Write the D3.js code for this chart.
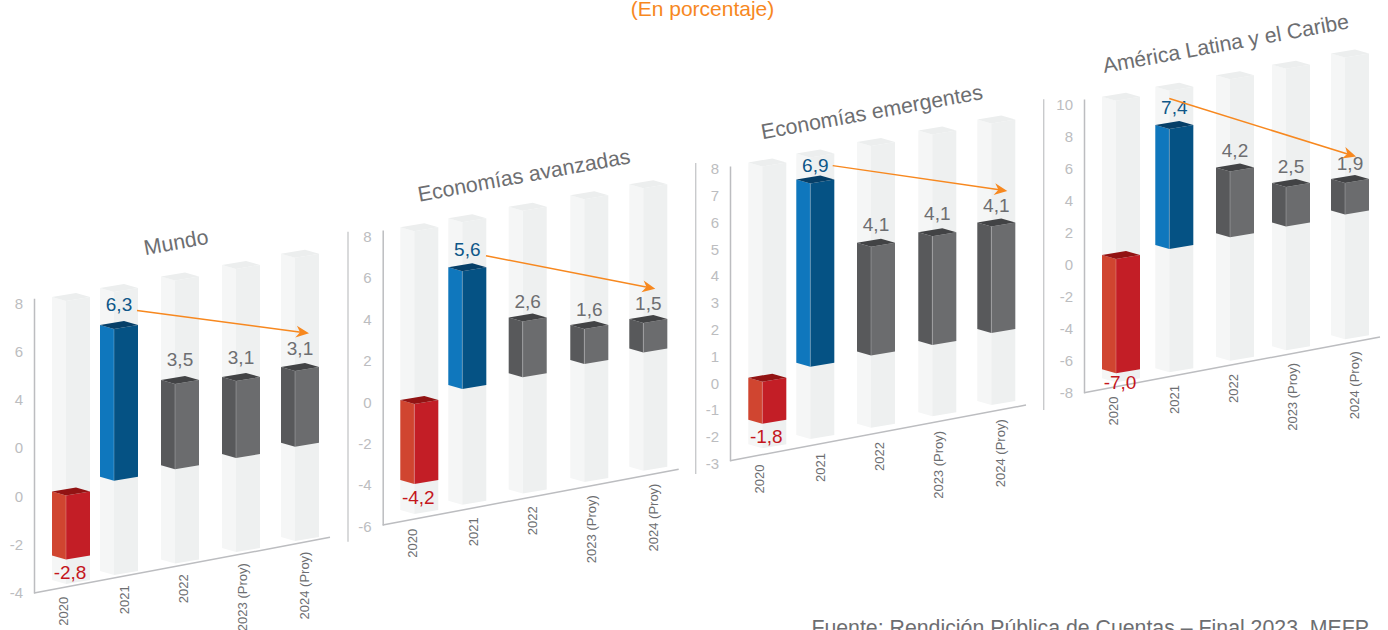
<!DOCTYPE html>
<html>
<head>
<meta charset="utf-8">
<script src="https://cdn.jsdelivr.net/npm/d3@7"></script>
<style>
    html, body { margin: 0; padding: 0; background: #fff; overflow: hidden; }
    text { font-family: "Liberation Sans", Arial, sans-serif; }
</style>
</head>
<body>
<div id="chart"></div>
<script>
const categories = ['2020', '2021', '2022', '2023 (Proy)', '2024 (Proy)'];

// labels printed on the bars
const mundoValues = [-2.8, 6.3, 3.5, 3.1, 3.1];
const avanzadasValues = [-4.2, 5.6, 2.6, 1.6, 1.5];
const emergentesValues = [-1.8, 6.9, 4.1, 4.1, 4.1];
const latinaValues = [-7.0, 7.4, 4.2, 2.5, 1.9];

// where the floating bars start and end, read against each axis
const mundoBottoms = [-2.59, 0.3, 0.3, 0.29, 0.3];
const mundoTops = [0.06, 6.58, 3.83, 3.48, 3.44];
const avanzadasBottoms = [-3.99, 0.17, 0.18, 0.26, 0.28];
const avanzadasTops = [-0.12, 5.85, 2.87, 1.96, 1.71];
const emergentesBottoms = [-1.6, 0.19, 0.18, 0.15, 0.18];
const emergentesTops = [-0.03, 7.03, 4.24, 4.2, 4.15];
const latinaBottoms = [-6.75, 0.4, 0.42, 0.43, 0.49];
const latinaTops = [0.39, 7.9, 4.52, 2.89, 2.45];

// tick labels, the first panel really prints 0 twice
const mundoTicks = [-4, -2, 0, 2, 4, 6, 8];
const mundoTickLabels = ['-4', '-2', '0', '0', '4', '6', '8'];
const avanzadasTicks = [-6, -4, -2, 0, 2, 4, 6, 8];
const emergentesTicks = [-3, -2, -1, 0, 1, 2, 3, 4, 5, 6, 7, 8];
const latinaTicks = [-8, -6, -4, -2, 0, 2, 4, 6, 8, 10];

const width = 1388;
const height = 630;
const slope = -0.188;
const barLeft = 14;
const barRight = 24;
const barDepth = 4;
const xLabelOffsets = [30, 91, 150, 209, 271];
const axisLength = 296;

const panels = [
    {
        title: 'Mundo', titleX: 176, titleY: 242,
        axisX: 34, axisY: 593, unit: 24.15, min: -4, axisTop: 8.2, tickShift: 0,
        ticks: mundoTicks, tickLabels: mundoTickLabels,
        values: mundoValues, bottoms: mundoBottoms, tops: mundoTops,
        trackLow: -3.6, trackHigh: 8.12, colStops: [18, 66, 127, 188, 247],
        labelGaps: [17, 21, 21, 20, 19], arrow: [37, 28, 6.9, 4.61], divider: null
    },
    {
        title: 'Economías avanzadas', titleX: 524, titleY: 175,
        axisX: 382.7, axisY: 525, unit: 20.71, min: -6, axisTop: 8.25, tickShift: 1.5,
        ticks: avanzadasTicks, tickLabels: avanzadasTicks.map(String),
        values: avanzadasValues, bottoms: avanzadasBottoms, tops: avanzadasTops,
        trackLow: -5.43, trackHigh: 8.22, colStops: [17.6, 65.6, 126, 187.6, 246.6],
        labelGaps: [17, 18, 16, 16, 16], arrow: [37.7, 26, 6.06, 2.93], divider: [348, 231.7, 541.7]
    },
    {
        title: 'Economías emergentes', titleX: 871.7, titleY: 111.7,
        axisX: 730, axisY: 460.7, unit: 26.8, min: -3, axisTop: 8.0, tickShift: 3,
        ticks: emergentesTicks, tickLabels: emergentesTicks.map(String),
        values: emergentesValues, bottoms: emergentesBottoms, tops: emergentesTops,
        trackLow: -2.51, trackHigh: 8.0, colStops: [18.3, 66.3, 127, 188.3, 247.3],
        labelGaps: [17, 14, 18, 19, 17], arrow: [36.4, 30, 7.29, 5.12], divider: [695.7, 163, 474]
    },
    {
        title: 'América Latina y el Caribe', titleX: 1225.7, titleY: 43.3,
        axisX: 1084, axisY: 392.7, unit: 16, min: -8, axisTop: 10.35, tickShift: 0,
        ticks: latinaTicks, tickLabels: latinaTicks.map(String),
        values: latinaValues, bottoms: latinaBottoms, tops: latinaTops,
        trackLow: -7.31, trackHigh: 10.29, colStops: [18, 71.3, 132, 188, 247],
        labelGaps: [13, 18, 17, 16.6, 16], arrow: [14, 25, 9.38, 3.56], divider: [1043.7, 99.3, 410]
    }
];

const trackColors = { left: '#f5f6f6', right: '#eef0f0', top: '#eceeee' };
const redColors = { left: '#d04530', right: '#c31e26', top: '#921313', text: '#c4161c' };
const blueColors = { left: '#0f77bd', right: '#055284', top: '#063f68', text: '#0f5788' };
const grayColors = { left: '#58595b', right: '#6b6c6e', top: '#424345', text: '#6d6e71' };

const axisColor = '#bcbdc0';
const orange = '#f7881f';

const svg = d3.select('#chart')
    .append('svg')
    .attr('width', width)
    .attr('height', height);

const drawBox = (g, x, yTop, yBottom, colors, edge) => {
    const front = x + barLeft;
    const right = front + barRight;
    g.append('polygon')
        .attr('points', [[x, yTop], [front, yTop + barDepth], [front, yBottom + barDepth], [x, yBottom]].join(' '))
        .attr('fill', colors.left);
    g.append('polygon')
        .attr('points', [[front, yTop + barDepth], [right, yTop], [right, yBottom], [front, yBottom + barDepth]].join(' '))
        .attr('fill', colors.right);
    g.append('polygon')
        .attr('points', [[x, yTop], [front, yTop + barDepth], [right, yTop], [x + barRight, yTop - barDepth]].join(' '))
        .attr('fill', colors.top);
    if (edge) {
        g.append('line')
            .attr('x1', front).attr('x2', front)
            .attr('y1', yTop + barDepth).attr('y2', yBottom + barDepth)
            .attr('stroke', '#fff')
            .attr('stroke-opacity', 0.3)
            .attr('stroke-width', 0.8);
    }
};

const drawArrow = (g, x1, y1, x2, y2) => {
    const angle = Math.atan2(y2 - y1, x2 - x1);
    const along = (d, side) => [
        x2 + d * Math.cos(angle) - side * Math.sin(angle),
        y2 + d * Math.sin(angle) + side * Math.cos(angle)
    ];
    g.append('line')
        .attr('x1', x1).attr('y1', y1)
        .attr('x2', along(-8, 0)[0]).attr('y2', along(-8, 0)[1])
        .attr('stroke', orange)
        .attr('stroke-width', 1.5);
    g.append('polygon')
        .attr('points', [[x2, y2], along(-13, 6), along(-9, 0), along(-13, -6)].join(' '))
        .attr('fill', orange);
};

const drawPanel = (p) => {
    const g = svg.append('g').attr('class', 'panel');

    const y = d3.scaleLinear()
        .domain([p.min, p.axisTop])
        .range([p.axisY, p.axisY - (p.axisTop - p.min) * p.unit]);
    const x = d3.scaleOrdinal().domain(categories).range(p.colStops);
    const xLabel = d3.scaleOrdinal().domain(categories).range(xLabelOffsets);

    // everything slides up as it moves right along the floor
    const sheared = (value, offset) => y(value) + slope * offset;

    if (p.divider) {
        g.append('line')
            .attr('x1', p.divider[0]).attr('x2', p.divider[0])
            .attr('y1', p.divider[1]).attr('y2', p.divider[2])
            .attr('stroke', '#c9cacc')
            .attr('stroke-width', 1.4);
    }

    categories.forEach(cat => {
        const offset = x(cat);
        drawBox(g, p.axisX + offset, sheared(p.trackHigh, offset), sheared(p.trackLow, offset), trackColors, false);
    });

    const yAxis = g.append('g')
        .attr('transform', `translate(${p.axisX}, 0)`)
        .call(d3.axisLeft(y)
            .tickValues(p.ticks)
            .tickSize(0)
            .tickPadding(11)
            .tickFormat((d, i) => p.tickLabels[i]));
    yAxis.select('.domain')
        .attr('stroke', axisColor)
        .attr('stroke-width', 1.5);
    yAxis.selectAll('text')
        .attr('transform', `translate(0, ${p.tickShift})`)
        .style('font-size', '15px')
        .style('font-family', '"Liberation Sans", Arial, sans-serif')
        .attr('fill', axisColor);

    g.append('line')
        .attr('x1', p.axisX).attr('y1', p.axisY)
        .attr('x2', p.axisX + axisLength).attr('y2', p.axisY + slope * axisLength)
        .attr('stroke', axisColor)
        .attr('stroke-width', 1.5);

    categories.forEach((cat, i) => {
        const offset = x(cat);
        const colors = i === 0 ? redColors : i === 1 ? blueColors : grayColors;
        const yTop = sheared(p.tops[i], offset);
        const yBottom = sheared(p.bottoms[i], offset);
        drawBox(g, p.axisX + offset, yTop, yBottom, colors, true);

        const value = p.values[i];
        const labelY = value < 0 ? yBottom + p.labelGaps[i] : yTop - p.labelGaps[i];
        g.append('text')
            .attr('x', p.axisX + offset + (value < 0 ? 18 : 19))
            .attr('y', labelY)
            .attr('dy', '0.35em')
            .attr('text-anchor', 'middle')
            .attr('fill', colors.text)
            .style('font-size', '19px')
            .text(value.toFixed(1).replace('.', ','));

        const lx = p.axisX + xLabel(cat);
        const ly = p.axisY + slope * xLabel(cat) + 9.5;
        g.append('text')
            .attr('transform', `translate(${lx}, ${ly}) rotate(-90)`)
            .attr('dy', '0.32em')
            .attr('text-anchor', 'end')
            .attr('fill', '#6d6e71')
            .style('font-size', '13px')
            .text(cat);
    });

    const from = x('2021') + p.arrow[0];
    const to = x('2024 (Proy)') + p.arrow[1];
    drawArrow(g,
        p.axisX + from, sheared(p.arrow[2], from),
        p.axisX + to, sheared(p.arrow[3], to));

    g.append('text')
        .attr('transform', `translate(${p.titleX}, ${p.titleY}) rotate(${Math.atan(slope) * 180 / Math.PI + 0.3})`)
        .attr('dy', '0.35em')
        .attr('text-anchor', 'middle')
        .attr('fill', '#6d6e71')
        .style('font-size', '21.3px')
        .text(p.title);
};

svg.append('text')
    .attr('x', 702.5)
    .attr('y', 16)
    .attr('text-anchor', 'middle')
    .attr('fill', orange)
    .style('font-size', '21px')
    .text('(En porcentaje)');

panels.forEach(drawPanel);

svg.append('text')
    .attr('x', 1369)
    .attr('y', 635)
    .attr('text-anchor', 'end')
    .attr('fill', '#6d6e71')
    .style('font-size', '21.3px')
    .text('Fuente: Rendición Pública de Cuentas – Final 2023, MEFP');
</script>
</body>
</html>
